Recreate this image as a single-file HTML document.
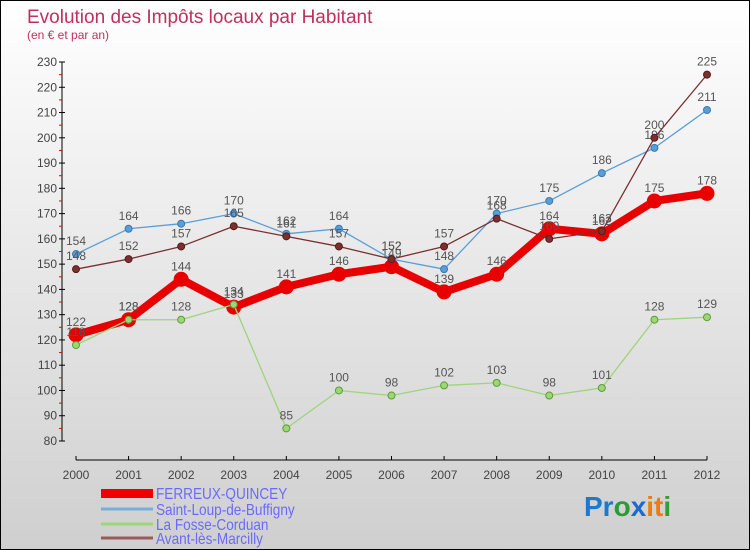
<!DOCTYPE html>
<html><head><meta charset="utf-8"><style>
body{margin:0}
#c{width:748px;height:548px;border:1px solid #000;background:linear-gradient(#fff,#cfcfcf);position:relative;overflow:hidden;font-family:"Liberation Sans",sans-serif}
</style></head><body>
<div id="c">
<svg id="s" width="748" height="548" xmlns="http://www.w3.org/2000/svg" style="position:absolute;left:0;top:0">
<text x="26" y="22" font-size="19" fill="#c0305a">Evolution des Impôts locaux par Habitant</text>
<text x="26" y="38" font-size="12" fill="#c0305a">(en € et par an)</text>
<g id="axes"></g><g id="series"></g>
<g font-size="16" fill="#6a6aff">
<rect x="100" y="488" width="52" height="9" fill="#e00"/>
<text x="155" y="498" transform="translate(155 0) scale(0.85 1) translate(-155 0)">FERREUX-QUINCEY</text>
<line x1="100" y1="508" x2="152" y2="508" stroke="#7aaed8" stroke-width="3"/>
<text x="155" y="514" transform="translate(155 0) scale(0.85 1) translate(-155 0)">Saint-Loup-de-Buffigny</text>
<line x1="100" y1="523" x2="152" y2="523" stroke="#9ed47a" stroke-width="3"/>
<text x="155" y="529" transform="translate(155 0) scale(0.85 1) translate(-155 0)">La Fosse-Corduan</text>
<line x1="100" y1="537" x2="152" y2="537" stroke="#9a5a5a" stroke-width="3"/>
<text x="155" y="543" transform="translate(155 0) scale(0.85 1) translate(-155 0)">Avant-lès-Marcilly</text>
</g>
<g font-size="28" font-weight="bold">
<text x="583" y="515"><tspan fill="#1a7ad0">Pr</tspan><tspan fill="#2a9a3a">o</tspan><tspan fill="#1a6ad0">x</tspan><tspan fill="#f07a10">it</tspan><tspan fill="#30a030">i</tspan></text>
</g>
</svg>
</div>
<script>
const years=[2000,2001,2002,2003,2004,2005,2006,2007,2008,2009,2010,2011,2012];
const yTicks=[80,90,100,110,120,130,140,150,160,170,180,190,200,210,220,230];
const ferreux=[122,128,144,133,141,146,149,139,146,164,162,175,178];
const saintLoup=[154,164,166,170,162,164,152,148,170,175,186,196,211];
const laFosse=[118,128,128,134,85,100,98,102,103,98,101,128,129];
const avant=[148,152,157,165,161,157,152,157,168,160,163,200,225];
const NS="http://www.w3.org/2000/svg";
const X=i=>75+i*(631/12);
const Y=v=>440-(v-80)*(379/150);
function mk(t,a,p){const e=document.createElementNS(NS,t);for(const k in a)e.setAttribute(k,a[k]);p.appendChild(e);return e;}
const ax=document.getElementById('axes');
const yl=mk('line',{x1:61,y1:Y(230),x2:61,y2:440,stroke:'#000'},ax);


yTicks.forEach(v=>{
 mk('line',{x1:58,y1:Y(v),x2:64,y2:Y(v),stroke:'#000'},ax);
 if(v<230)mk('line',{x1:58,y1:Y(v+5),x2:61,y2:Y(v+5),stroke:'#e00'},ax);
 const t=mk('text',{x:56,y:Y(v)+4,'text-anchor':'end','font-size':12,fill:'#444'},ax);
 t.textContent=v;
 
 
});
const xl=mk('line',{x1:75,y1:459,x2:706,y2:459,stroke:'#000'},ax);


years.forEach((y,i)=>{
 mk('line',{x1:X(i),y1:455,x2:X(i),y2:459,stroke:'#000'},ax);
 const t=mk('text',{x:X(i),y:478,'text-anchor':'middle','font-size':12,fill:'#444'},ax);
 t.textContent=y;
 
 
});
const sg=document.getElementById('series');
function series(d,name,color,w,r,stroke){
 const g=mk('g',{},sg);
 
 
 const p=mk('polyline',{points:d.map((v,i)=>X(i)+','+Y(v)).join(' '),fill:'none',stroke:color,'stroke-width':w,'stroke-linejoin':'round'},g);
 
 
 d.forEach((v,i)=>{
  const c=mk('circle',{cx:X(i),cy:Y(v),r:r,fill:color,stroke:stroke,'stroke-width':1},g);
  
  
  const t=mk('text',{x:X(i),y:Y(v)-9,'text-anchor':'middle','font-size':12,fill:'#555'},g);
  t.textContent=v;
  
  
 });
}
series(ferreux,'ferreux','#e80000',8,7,'#e80000');
series(saintLoup,'saint-loup','#5a9ed8',1.3,3.5,'#3a7ab0');
series(laFosse,'la-fosse','#9ed47a',1.3,3.5,'#5aa030');
series(avant,'avant','#7a3030',1.3,3.5,'#5a1a1a');
</script>
</body></html>
